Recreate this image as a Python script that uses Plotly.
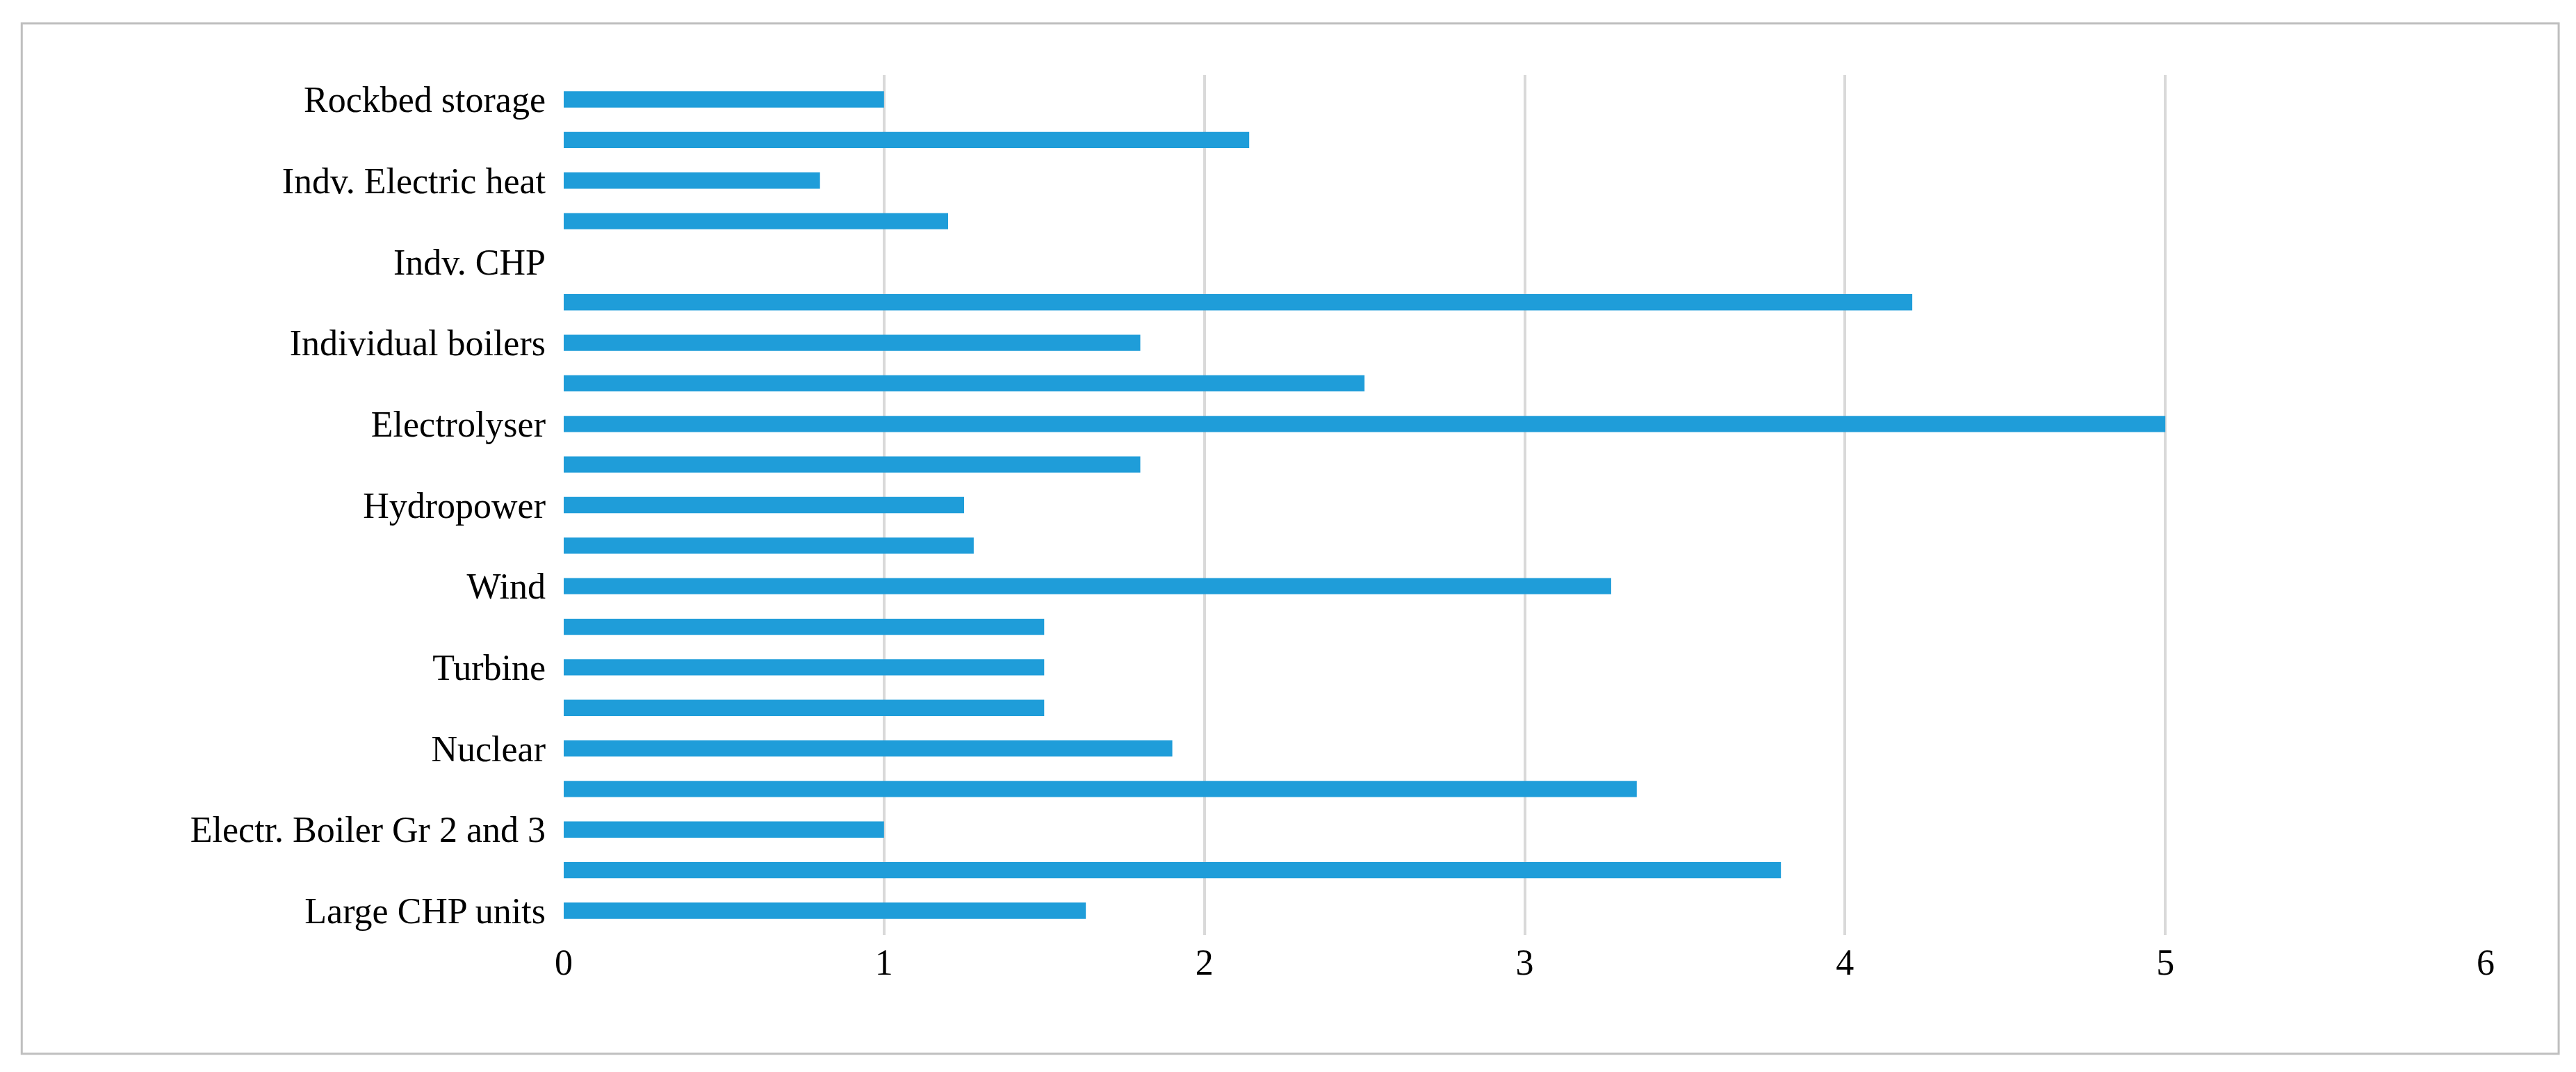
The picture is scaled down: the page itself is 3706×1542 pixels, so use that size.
import plotly.graph_objects as go

# bottom to top; only every other bar carries a label in the original
labels = ["Large CHP units", "", "Electr. Boiler Gr 2 and 3", "", "Nuclear", "",
          "Turbine", "", "Wind", "", "Hydropower", "", "Electrolyser", "",
          "Individual boilers", "", "Indv. CHP", "", "Indv. Electric heat", "",
          "Rockbed storage"]
values = [1.63, 3.8, 1.0, 3.35, 1.9, 1.5, 1.5, 1.5, 3.27, 1.28, 1.25, 1.8,
          5.0, 2.5, 1.8, 4.21, 0.0, 1.2, 0.8, 2.14, 1.0]
positions = list(range(len(values)))

fig = go.Figure()
fig.add_bar(x=values, y=positions, orientation="h",
            marker={"color": "#1f9dd9", "line": {"width": 0}})

fig.update_layout(
    width=3706, height=1542,
    paper_bgcolor="white", plot_bgcolor="white",
    margin={"l": 803, "r": 138, "t": 100, "b": 205},
    font={"family": "Liberation Serif", "size": 52, "color": "black"},
    bargap=0.6,
    showlegend=False,
    shapes=[{"type": "rect", "xref": "paper", "yref": "paper",
             "x0": -0.282, "x1": 1.038, "y0": -0.138, "y1": 1.06,
             "line": {"color": "#bfbfbf", "width": 3}}],
)
fig.update_xaxes(range=[0, 6], dtick=1, showgrid=True, gridcolor="#d9d9d9",
                 gridwidth=4, zeroline=False, showline=False, ticks="",
                 ticklabelstandoff=4)
fig.update_yaxes(tickvals=positions[::2], ticktext=labels[::2],
                 range=[-0.6, 20.6], showgrid=False, zeroline=False,
                 showline=False, ticks="", ticklabelstandoff=25)

fig.write_html("out.html")
